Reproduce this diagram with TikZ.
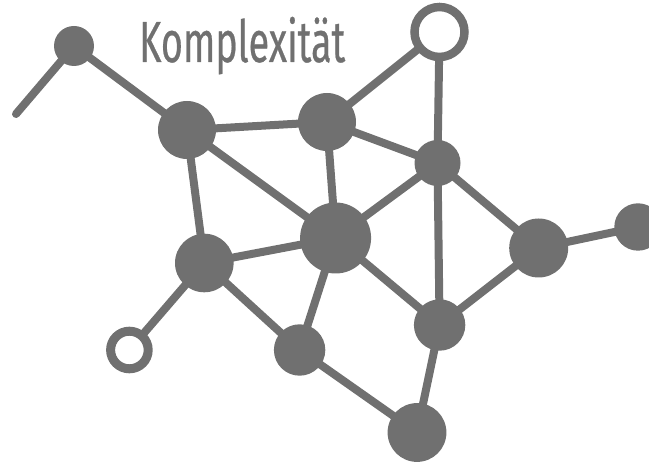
\documentclass[tikz,border=0pt]{standalone}
\usepackage{fontspec}
\setmainfont{Fira Sans}
\newfontfamily\titlefont[FakeBold=0.6]{Fira Sans}
\usepackage{graphicx}
\usetikzlibrary{backgrounds}
\definecolor{netgrey}{HTML}{707070}
\begin{document}
\begin{tikzpicture}[x=1pt,y=-1pt,
  full/.style={circle,fill=netgrey,inner sep=0pt,outer sep=0pt,minimum size=#1},
  hollow/.style={circle,draw=netgrey,fill=white,inner sep=0pt,outer sep=0pt,line width=8.5pt,minimum size=#1},
  link/.style={draw=netgrey,line width=8pt,line cap=round}]
\useasboundingbox (0,0) rectangle (649,462);
\clip (0,0) rectangle (649,462);
\node[full=40pt] (A) at (74,46) {};
\node[full=58pt] (B) at (187,130) {};
\node[full=58pt] (C) at (327,122) {};
\node[hollow=50pt] (D) at (439.5,32) {};
\node[full=46pt] (E) at (437.5,163) {};
\node[full=71pt] (F) at (335.6,238) {};
\node[full=58.6pt] (G) at (204.3,263) {};
\node[hollow=37.6pt,line width=9pt] (H) at (129.4,350) {};
\node[full=51.4pt] (I) at (299.6,350) {};
\node[full=51.4pt] (J) at (439.6,325) {};
\node[full=59pt] (K) at (538.7,248) {};
\node[full=47.4pt] (L) at (638,227) {};
\node[full=58.8pt] (M) at (417,432.5) {};
\coordinate (Z) at (16,114);
\node[anchor=base west,inner sep=0pt,text=netgrey] (T) at (139,62)
  {\resizebox{206pt}{\height}{\fontsize{58}{60}\titlefont Komplexität}};
\begin{pgfonlayer}{background}
\path[link] (A.center) -- (Z);
\path[link] (A.center) -- (B.center);
\path[link] (B.center) -- (C.center);
\path[link] (B.center) -- (F.center);
\path[link] (B.center) -- (G.center);
\path[link] (C.center) -- (D.center);
\path[link] (C.center) -- (F.center);
\path[link] (C.center) -- (E.center);
\path[link] (D.center) -- (E.center);
\path[link] (E.center) -- (F.center);
\path[link] (E.center) -- (J.center);
\path[link] (E.center) -- (K.center);
\path[link] (F.center) -- (G.center);
\path[link] (F.center) -- (I.center);
\path[link] (F.center) -- (J.center);
\path[link] (J.center) -- (K.center);
\path[link] (K.center) -- (L.center);
\path[link] (G.center) -- (H.center);
\path[link] (G.center) -- (I.center);
\path[link] (I.center) -- (M.center);
\path[link] (J.center) -- (M.center);
\end{pgfonlayer}
\end{tikzpicture}
\end{document}
